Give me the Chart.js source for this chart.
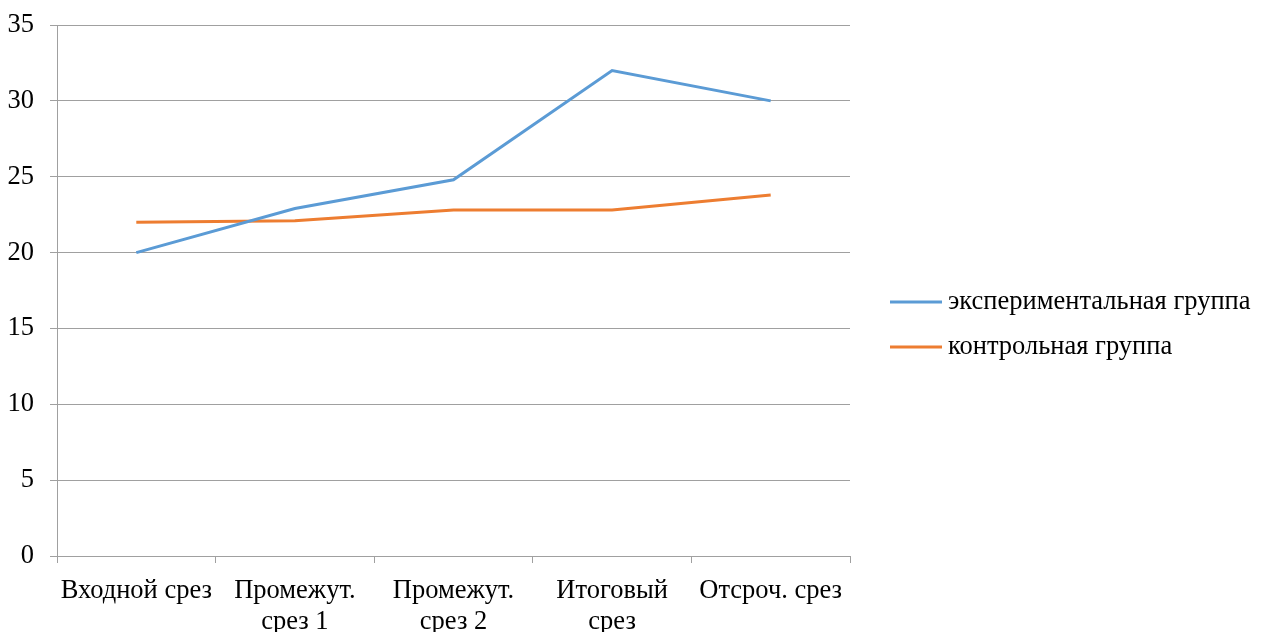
<!DOCTYPE html>
<html>
<head>
<meta charset="utf-8">
<script src="https://cdn.jsdelivr.net/npm/chart.js@4"></script>
<style>
  body { margin: 0; background: #fff; }
  #wrap { width: 1261px; height: 632px; }
</style>
</head>
<body>
<div id="wrap"><canvas id="lineChart" width="1261" height="632"></canvas></div>
<script>
const categories = [
    ['Входной срез'],
    ['Промежут.', 'срез 1'],
    ['Промежут.', 'срез 2'],
    ['Итоговый', 'срез'],
    ['Отсроч. срез']
];
const seriesNames = ['экспериментальная группа', 'контрольная группа'];
const experimental = [20, 22.9, 24.8, 32, 30];
const control = [22, 22.1, 22.8, 22.8, 23.8];
const yTicks = [0, 5, 10, 15, 20, 25, 30, 35];

const FONT = '"Liberation Serif", "Times New Roman", serif';
const colors = ['#5b9bd5', '#ed7d31'];

// legend drawn by hand so the plot keeps its width
const sideLegend = {
    id: 'sideLegend',
    afterDraw(chart) {
        const ctx = chart.ctx;
        const rows = [302, 347];
        ctx.save();
        chart.data.datasets.forEach((ds, i) => {
            ctx.strokeStyle = ds.borderColor;
            ctx.lineWidth = 3;
            ctx.beginPath();
            ctx.moveTo(890, rows[i]);
            ctx.lineTo(942, rows[i]);
            ctx.stroke();
            ctx.fillStyle = '#000';
            ctx.font = '26.5px ' + FONT;
            ctx.textBaseline = 'middle';
            ctx.fillText(ds.label, 948, rows[i]);
        });
        ctx.restore();
    }
};

const ctxLine = document.getElementById('lineChart').getContext('2d');
const lineChart = new Chart(ctxLine, {
    type: 'line',
    data: {
        labels: categories,
        datasets: [{
            label: seriesNames[0],
            data: experimental,
            borderColor: colors[0],
            borderWidth: 3,
            pointRadius: 0,
            tension: 0,
            fill: false
        }, {
            label: seriesNames[1],
            data: control,
            borderColor: colors[1],
            borderWidth: 3,
            pointRadius: 0,
            tension: 0,
            fill: false
        }]
    },
    options: {
        responsive: false,
        animation: false,
        layout: { padding: { left: 0, right: 411, top: 25, bottom: 0 } },
        plugins: {
            legend: { display: false },
            tooltip: { enabled: false }
        },
        scales: {
            x: {
                offset: true,
                afterFit: s => { s.height = 76; },
                grid: {
                    offset: true,
                    drawOnChartArea: false,
                    drawTicks: true,
                    tickLength: 7,
                    color: '#a0a0a0'
                },
                border: { color: '#a0a0a0' },
                ticks: {
                    color: '#000',
                    font: { family: FONT, size: 26.5, lineHeight: 1.17 },
                    padding: 13,
                    maxRotation: 0,
                    autoSkip: false
                }
            },
            y: {
                min: 0,
                max: 35,
                afterFit: s => { s.width = 57; s.paddingTop = 0; s.paddingBottom = 0; },
                afterBuildTicks: axis => { axis.ticks = yTicks.map(v => ({ value: v })); },
                grid: {
                    color: '#a0a0a0',
                    tickLength: 7
                },
                border: { color: '#a0a0a0' },
                ticks: {
                    color: '#000',
                    font: { family: FONT, size: 26.5 },
                    padding: 16
                }
            }
        }
    },
    plugins: [sideLegend]
});
</script>
</body>
</html>
